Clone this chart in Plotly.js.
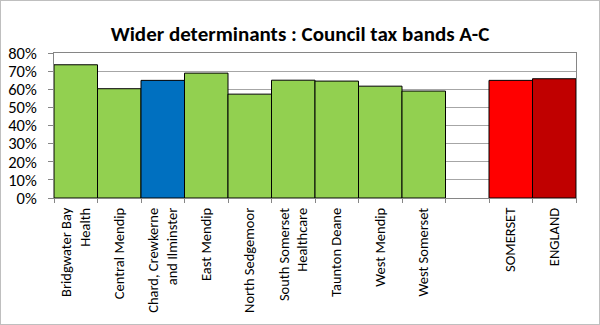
<!DOCTYPE html>
<html><head><meta charset="utf-8">
<script src="https://cdn.plot.ly/plotly-3.0.1.min.js"></script>
<style>
html,body{margin:0;padding:0;background:#fff;}
#wrap{width:600px;height:325px;box-sizing:border-box;border:1px solid #bfbfbf;}
#chart{width:598px;height:323px;}
</style></head>
<body><div id="wrap"><div id="chart"></div></div>
<script>
const categories = ["Bridgwater Bay<br>Health","Central Mendip","Chard, Crewkerne<br>and Ilminster","East Mendip","North Sedgemoor","South Somerset<br>Healthcare","Taunton Deane","West Mendip","West Somerset"," ","SOMERSET","ENGLAND"];
const values = [0.735, 0.603, 0.649, 0.689, 0.573, 0.650, 0.645, 0.617, 0.590, null, 0.649, 0.658];
const colors = ["#92d050","#92d050","#0070c0","#92d050","#92d050","#92d050","#92d050","#92d050","#92d050","#92d050","#ff0000","#c00000"];

const font = "Carlito, Calibri, 'Open Sans', 'Liberation Sans', sans-serif";
Plotly.newPlot("chart", [{
  type: "bar", x: categories, y: values,
  marker: {color: colors, line: {color: "#000", width: 1}},
  hoverinfo: "none"
}], {
  width: 598, height: 323,
  margin: {l: 53, r: 23, t: 52, b: 126},
  paper_bgcolor: "#fff", plot_bgcolor: "#fff",
  bargap: 0,
  showlegend: false,
  title: {text: "<b>Wider determinants : Council tax bands A-C</b>", font: {family: font, size: 21, color: "#000"}, x: 0.5, xanchor: "center", y: 0.9, yanchor: "middle"},
  xaxis: {type: "category", tickangle: -90, tickson: "boundaries", ticks: "outside", ticklen: 4, tickcolor: "#868686",
          showline: true, linecolor: "#868686", mirror: true, showgrid: false, ticklabelstandoff: 3,
          tickfont: {family: font, size: 14.5, color: "#000"}, automargin: false},
  yaxis: {range: [0, 0.8], dtick: 0.1, tickformat: ".0%", ticks: "outside", ticklen: 5, tickcolor: "#868686",
          showline: true, linecolor: "#868686", mirror: true, showgrid: true, gridcolor: "#a6a6a6", ticklabelstandoff: 8,
          tickfont: {family: font, size: 16.5, color: "#000"}, zeroline: false, automargin: false}
}, {staticPlot: true});
</script></body></html>
